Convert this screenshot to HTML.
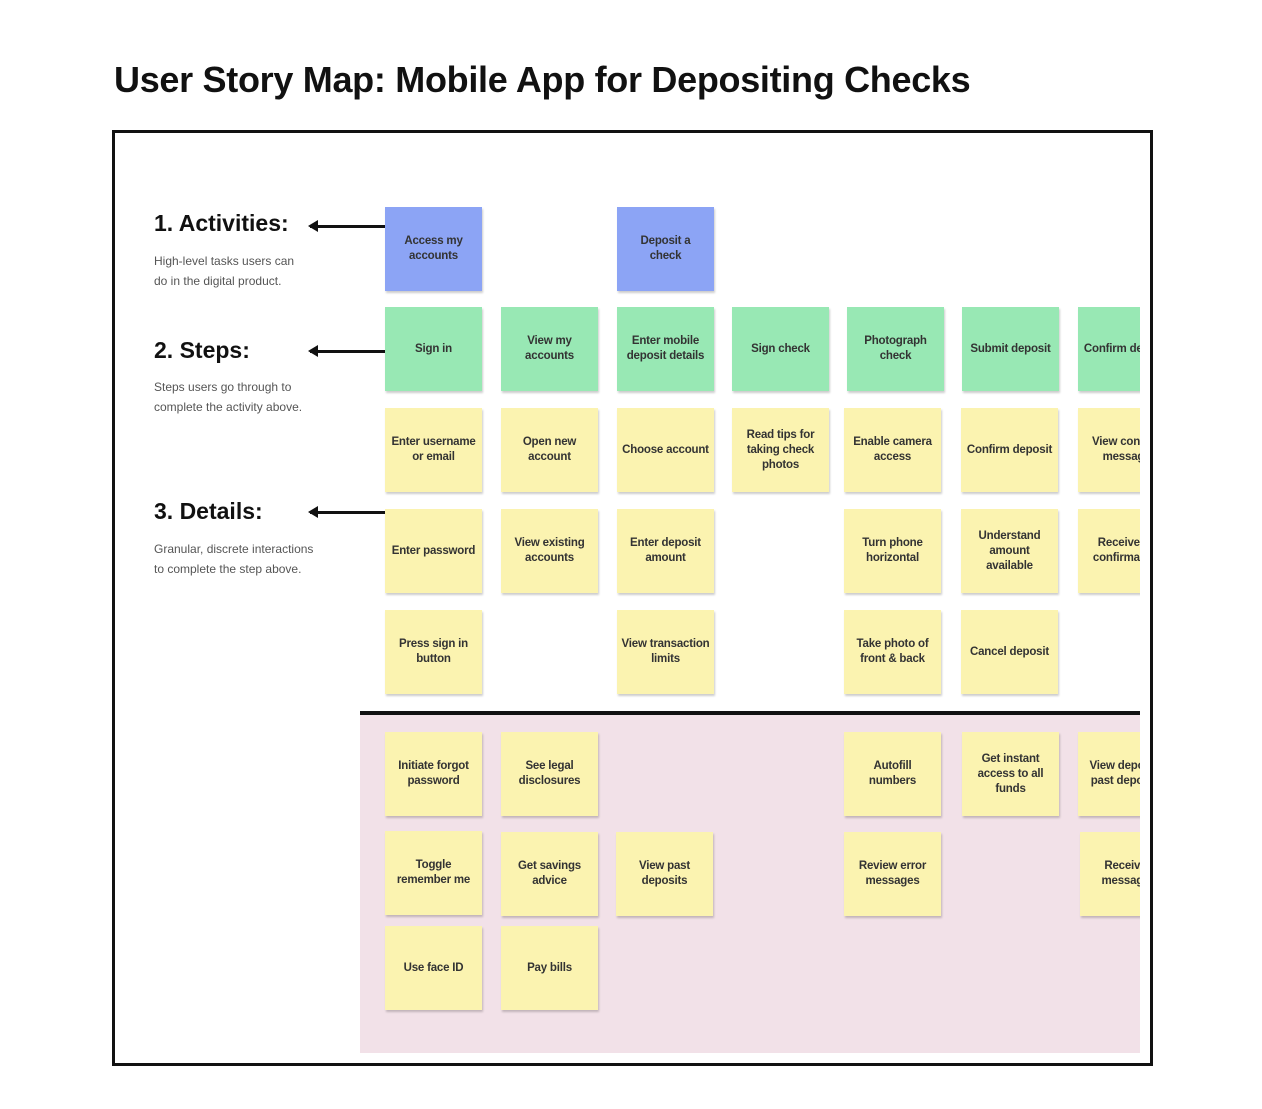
<!DOCTYPE html><html><head><style>
body{margin:0;width:1262px;height:1109px;background:#fff;position:relative;font-family:"Liberation Sans",sans-serif;overflow:hidden}
h1{position:absolute;left:114px;top:59px;margin:0;font-size:36px;font-weight:bold;color:#111;letter-spacing:-0.3px}
.frame{position:absolute;left:112px;top:130px;width:1035px;height:930px;border:3px solid #111}
.clip{position:absolute;left:0;top:0;width:1140px;height:1109px;overflow:hidden}
.pink{position:absolute;left:360px;top:714px;width:780px;height:339px;background:#f2e1e8}
.line{position:absolute;left:360px;top:711px;width:780px;height:4px;background:#111}
.n{position:absolute;width:97px;height:84px;display:flex;align-items:center;justify-content:center;text-align:center;font-size:11.5px;font-weight:bold;color:#333;line-height:15px;box-shadow:1px 2px 2px rgba(0,0,0,.2);white-space:nowrap;letter-spacing:-0.2px}
.b{background:#8ca4f5}.g{background:#98e8b4}.y{background:#fbf3b0}
.lab{position:absolute;left:154px;font-weight:bold;font-size:23px;color:#111}
.d{position:absolute;left:154px;font-size:12px;color:#555;line-height:20px}
.ar{position:absolute;left:310px;height:3px;width:75px;background:#111}
.ar:before{content:"";position:absolute;left:-2px;top:-5px;border-right:10px solid #111;border-top:6.5px solid transparent;border-bottom:6.5px solid transparent}
</style></head><body>
<h1>User Story Map: Mobile App for Depositing Checks</h1>
<div class="frame"></div>
<div class="lab" style="top:210px">1. Activities:</div>
<div class="d" style="top:251px">High-level tasks users can<br>do in the digital product.</div>
<div class="lab" style="top:337px">2. Steps:</div>
<div class="d" style="top:377px">Steps users go through to<br>complete the activity above.</div>
<div class="lab" style="top:498px">3. Details:</div>
<div class="d" style="top:539px">Granular, discrete interactions<br>to complete the step above.</div>
<div class="ar" style="top:225px"></div>
<div class="ar" style="top:350px"></div>
<div class="ar" style="top:511px"></div>
<div class="clip">
<div class="pink"></div><div class="line"></div>
<div class="n b" style="left:385px;top:207px">Access my<br>accounts</div>
<div class="n b" style="left:617px;top:207px">Deposit a<br>check</div>
<div class="n g" style="left:385px;top:307px">Sign in</div>
<div class="n g" style="left:501px;top:307px">View my<br>accounts</div>
<div class="n g" style="left:617px;top:307px">Enter mobile<br>deposit details</div>
<div class="n g" style="left:732px;top:307px">Sign check</div>
<div class="n g" style="left:847px;top:307px">Photograph<br>check</div>
<div class="n g" style="left:962px;top:307px">Submit deposit</div>
<div class="n g" style="left:1078px;top:307px">Confirm deposit</div>
<div class="n y" style="left:385px;top:408px">Enter username<br>or email</div>
<div class="n y" style="left:501px;top:408px">Open new<br>account</div>
<div class="n y" style="left:617px;top:408px">Choose account</div>
<div class="n y" style="left:732px;top:408px">Read tips for<br>taking check<br>photos</div>
<div class="n y" style="left:844px;top:408px">Enable camera<br>access</div>
<div class="n y" style="left:961px;top:408px">Confirm deposit</div>
<div class="n y" style="left:1078px;top:408px">View confirm<br>message</div>
<div class="n y" style="left:385px;top:509px">Enter password</div>
<div class="n y" style="left:501px;top:509px">View existing<br>accounts</div>
<div class="n y" style="left:617px;top:509px">Enter deposit<br>amount</div>
<div class="n y" style="left:844px;top:509px">Turn phone<br>horizontal</div>
<div class="n y" style="left:961px;top:509px">Understand<br>amount<br>available</div>
<div class="n y" style="left:1078px;top:509px">Receives e<br>confirmation</div>
<div class="n y" style="left:385px;top:610px">Press sign in<br>button</div>
<div class="n y" style="left:617px;top:610px">View transaction<br>limits</div>
<div class="n y" style="left:844px;top:610px">Take photo of<br>front &amp; back</div>
<div class="n y" style="left:961px;top:610px">Cancel deposit</div>
<div class="n y" style="left:385px;top:732px">Initiate forgot<br>password</div>
<div class="n y" style="left:501px;top:732px">See legal<br>disclosures</div>
<div class="n y" style="left:844px;top:732px">Autofill<br>numbers</div>
<div class="n y" style="left:962px;top:732px">Get instant<br>access to all<br>funds</div>
<div class="n y" style="left:1078px;top:732px">View deposits<br>past deposits</div>
<div class="n y" style="left:385px;top:831px">Toggle<br>remember me</div>
<div class="n y" style="left:501px;top:832px">Get savings<br>advice</div>
<div class="n y" style="left:616px;top:832px">View past<br>deposits</div>
<div class="n y" style="left:844px;top:832px">Review error<br>messages</div>
<div class="n y" style="left:1080px;top:832px">Receives<br>messages</div>
<div class="n y" style="left:385px;top:926px">Use face ID</div>
<div class="n y" style="left:501px;top:926px">Pay bills</div>
</div>
</body></html>
